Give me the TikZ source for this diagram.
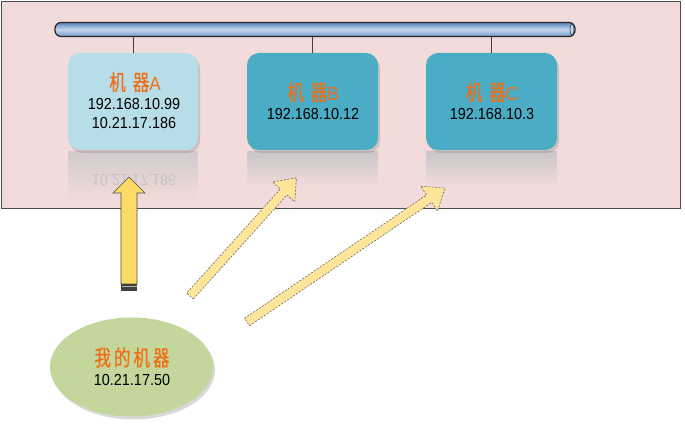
\documentclass[tikz,border=0pt]{standalone}
\usepackage{fontspec}
\setmainfont{Liberation Sans}[FakeStretch=0.9]
\newfontfamily\cjk{Noto Sans CJK SC}[FakeStretch=0.75, FakeBold=0.6]
\usetikzlibrary{shapes.geometric,shadows,fadings,calc}
\definecolor{bgpink}{HTML}{F2DCDB}
\definecolor{boxlight}{HTML}{B7DDE8}
\definecolor{boxdark}{HTML}{4BACC6}
\definecolor{ellgreen}{HTML}{C3D69B}
\definecolor{orangetxt}{RGB}{240,110,20}
\definecolor{arrowyellow}{HTML}{FFD966}
\definecolor{dashyellow}{HTML}{FFE59A}
\definecolor{pipeblue}{HTML}{5A86C0}
\definecolor{pipelight}{HTML}{C6D7EE}
\tikzfading[name=reflfade, top color=transparent!62, bottom color=transparent!100]
\tikzfading[name=reflfadeb, top color=transparent!70, bottom color=transparent!100]
\newcommand\fatdasharrow[3]{%
  \begin{scope}[shift={#1}, rotate=#2]
    \draw[dasharrow] (0,-4.5) -- (#3-19,-4.5) -- (#3-19,-15) -- (#3,0) -- (#3-19,15) -- (#3-19,4.5) -- (0,4.5) -- cycle;
  \end{scope}}
\tikzset{
  machine/.style={rectangle, rounded corners=12pt, minimum width=130pt, minimum height=97pt, inner sep=0pt,
    drop shadow={shadow xshift=2pt, shadow yshift=-3pt, opacity=0.3}},
  ttl/.style={text=orangetxt, font=\cjk\fontsize{22}{23}\selectfont, inner sep=0pt},
  ip/.style={font=\fontsize{16}{18}\selectfont, inner sep=0pt, text=black},
  pipe/.style={rectangle, rounded corners=6pt, minimum width=520pt, minimum height=14pt, draw=black!85,
    line width=1.2pt, top color=pipeblue, bottom color=pipeblue!85, middle color=pipelight, inner sep=0pt},
  dropline/.style={draw=black!75, line width=0.8pt},
  dasharrow/.style={fill=dashyellow, draw=black!60, line width=0.6pt, dash pattern=on 2pt off 1.5pt},
}
\newcommand\latinletter[1]{{\rmfamily\fontsize{19}{20}\selectfont #1}}
\begin{document}
\begin{tikzpicture}[x=1pt,y=1pt]
\useasboundingbox (0,0) rectangle (685,-427);
\fill[white] (0,0) rectangle (685,-427);
% background panel
\draw[fill=bgpink, draw=black!70, line width=0.8pt] (1,-1) rectangle (680,-208);
% reflections
\fill[gray!50!boxlight, path fading=reflfade] (68,-151) rectangle (198,-200);
\begin{scope}[shift={(134,-180)}, yscale=-1]
\node[ip, text=gray!50, opacity=0.8, transform shape] (arefl) at (0,0) {10.21.17.186};
\end{scope}
\fill[boxdark!40!gray, path fading=reflfadeb] (247,-151) rectangle (378,-186);
\fill[boxdark!40!gray, path fading=reflfadeb] (426,-151) rectangle (557,-186);
% bus
\node[pipe] (bus) at (315,-29.5) {};
\draw[fill=pipelight, draw=pipeblue!50!black, line width=0.6pt] (572,-29.5) ellipse (2pt and 5.5pt);
% machines
\node[machine, fill=boxlight] (ma) at (133,-101.5) {};
\node[machine, fill=boxdark, minimum width=131pt] (mb) at (312.5,-101.5) {};
\node[machine, fill=boxdark, minimum width=131pt] (mc) at (491.5,-101.5) {};
\draw[dropline] (ma.north) -- (ma.north |- bus.south);
\draw[dropline] (mb.north) -- (mb.north |- bus.south);
\draw[dropline] (mc.north) -- (mc.north |- bus.south);
% labels
\node[ttl] (ta) at (135,-82) {机\hspace{7pt}器\latinletter{A}};
\node[ip] (ia1) at (134,-104) {192.168.10.99};
\node[ip] (ia2) at (134,-122.5) {10.21.17.186};
\node[ttl] (tb) at (313,-92) {机\hspace{7pt}器\latinletter{B}};
\node[ip] (ib) at (313,-114) {192.168.10.12};
\node[ttl] (tc) at (492,-92) {机\hspace{7pt}器\latinletter{C}};
\node[ip] (ic) at (492,-114) {192.168.10.3};
% my machine
\node[ellipse, fill=ellgreen, minimum width=163pt, minimum height=99pt, inner sep=0pt,
  drop shadow={shadow xshift=2pt, shadow yshift=-3pt, opacity=0.3}] (me) at (131.5,-367) {};
\node[ttl] (tme) at (132,-357.5) {我\hspace{3pt}的\hspace{3pt}机\hspace{3pt}器};
\node[ip] (ime) at (132,-380) {10.21.17.50};
% solid yellow arrow
\coordinate (ytip) at (129,-177);
\draw[fill=arrowyellow, draw=black!70, line width=0.7pt]
  (121,-284) -- (121,-193) -- (113,-193) -- (ytip) -- (145,-193) -- (137,-193) -- (137,-284) -- cycle;
\fill[black!75] (121,-284) rectangle (137,-291);
\draw[black!30, line width=0.8pt] (121.5,-286.5) -- (136.5,-286.5);
% dashed arrows
\fatdasharrow{(190,-296)}{48}{159}
\fatdasharrow{(247,-322)}{34.1}{239}
\end{tikzpicture}
\end{document}
